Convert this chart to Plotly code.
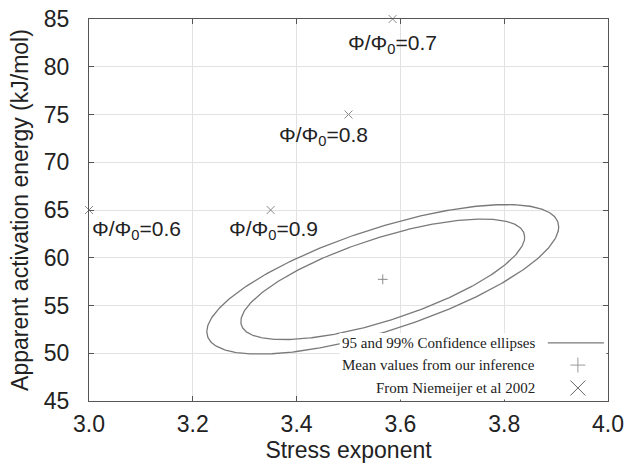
import numpy as np
import plotly.graph_objects as go

# ---- data ----
niemeijer_n = [3.0, 3.35, 3.5, 3.585]
niemeijer_E = [65, 65, 75, 85]
phi_ratio = ["0.6", "0.9", "0.8", "0.7"]
label_n = [3.002, 3.265, 3.362, 3.495]
label_E = [62.9, 62.9, 72.7, 82.4]

mean_n = [3.566]
mean_E = [57.74]

sigma_n = 0.1117
sigma_E = 2.58
rho = 0.70
conf_chi2 = [5.991, 9.210]  # 95% and 99%, 2 dof

x_ticks = [3.0, 3.2, 3.4, 3.6, 3.8, 4.0]
y_ticks = [45, 50, 55, 60, 65, 70, 75, 80, 85]

GRAY = "#7a7a7a"
FRAME = "#555555"
GRID = "#e2e2e2"
MARK = "#8a8a8a"

fig = go.Figure()

t = np.linspace(0, 2 * np.pi, 400)
for c in conf_chi2:
    s = np.sqrt(c)
    ex = mean_n[0] + s * sigma_n * np.cos(t)
    ey = mean_E[0] + s * sigma_E * (rho * np.cos(t) + np.sqrt(1 - rho ** 2) * np.sin(t))
    fig.add_trace(go.Scatter(x=ex, y=ey, mode="lines",
                             line=dict(color=GRAY, width=1.3), showlegend=False,
                             hoverinfo="skip"))

fig.add_trace(go.Scatter(x=mean_n, y=mean_E, mode="markers",
                         marker=dict(symbol="cross-thin-open", size=7, color=MARK,
                                     line=dict(color=MARK, width=1)),
                         showlegend=False))

fig.add_trace(go.Scatter(x=niemeijer_n, y=niemeijer_E, mode="markers",
                         marker=dict(symbol="x-thin-open", size=8, color=MARK,
                                     line=dict(color=MARK, width=1)),
                         cliponaxis=False, showlegend=False))

annotations = []
for xn, ye, r in zip(label_n, label_E, phi_ratio):
    annotations.append(dict(x=xn, y=ye, xref="x", yref="y",
                            text="Φ/Φ<sub>0</sub>=" + r, showarrow=False,
                            xanchor="left", yanchor="middle",
                            font=dict(family="Liberation Sans", size=21, color="#222")))

# custom legend (text right aligned, samples at right)
leg_text = ["95 and 99% Confidence ellipses",
            "Mean values from our inference",
            "From Niemeijer et al 2002"]
leg_y = [0.152, 0.094, 0.034]
for txt, yy in zip(leg_text, leg_y):
    annotations.append(dict(x=0.863, y=yy, xref="paper", yref="paper",
                            text=txt, showarrow=False, xanchor="right",
                            yanchor="middle",
                            font=dict(family="Liberation Serif", size=15, color="#222")))

shapes = [
    dict(type="rect", xref="paper", yref="paper", x0=0.483, x1=0.997,
         y0=0.004, y1=0.178, fillcolor="white", line=dict(width=0),
         layer="above"),
    dict(type="line", xref="paper", yref="paper", x0=0.884, x1=0.992,
         y0=leg_y[0], y1=leg_y[0], line=dict(color=GRAY, width=1.3),
         layer="above"),
    # plus
    dict(type="line", xref="paper", yref="paper", xsizemode="pixel",
         ysizemode="pixel", xanchor=0.942, yanchor=leg_y[1],
         x0=-7.5, x1=7.5, y0=0, y1=0, line=dict(color="#999", width=1),
         layer="above"),
    dict(type="line", xref="paper", yref="paper", xsizemode="pixel",
         ysizemode="pixel", xanchor=0.942, yanchor=leg_y[1],
         x0=0, x1=0, y0=-7.5, y1=7.5, line=dict(color="#999", width=1),
         layer="above"),
    # cross
    dict(type="line", xref="paper", yref="paper", xsizemode="pixel",
         ysizemode="pixel", xanchor=0.942, yanchor=leg_y[2],
         x0=-7.5, x1=7.5, y0=-7.5, y1=7.5, line=dict(color="#666", width=1),
         layer="above"),
    dict(type="line", xref="paper", yref="paper", xsizemode="pixel",
         ysizemode="pixel", xanchor=0.942, yanchor=leg_y[2],
         x0=-7.5, x1=7.5, y0=7.5, y1=-7.5, line=dict(color="#666", width=1),
         layer="above"),
]

axis_common = dict(showline=True, linecolor=FRAME, linewidth=1.3, mirror="allticks",
                   ticks="inside", ticklen=5, tickcolor=FRAME, tickwidth=1,
                   showgrid=True, gridcolor=GRID, gridwidth=1, zeroline=False,
                   automargin=False,
                   tickfont=dict(family="Liberation Sans", size=23, color="#222"))

fig.update_layout(
    width=630, height=466,
    margin=dict(l=89, r=22, t=19, b=65),
    paper_bgcolor="white", plot_bgcolor="white",
    showlegend=False,
    xaxis=dict(range=[3.0, 4.0], tickvals=x_ticks,
               ticktext=[f"{v:.1f}" for v in x_ticks],
               ticklabelstandoff=2,
               title=dict(text="Stress exponent", standoff=2,
                          font=dict(family="Liberation Sans", size=23, color="#222")),
               **axis_common),
    yaxis=dict(range=[45, 85], tickvals=y_ticks, ticklabelstandoff=14,
               title=dict(text="Apparent activation energy (kJ/mol)", standoff=8,
                          font=dict(family="Liberation Sans", size=23, color="#222")),
               **axis_common),
    annotations=annotations,
    shapes=shapes,
)

fig.write_html("out.html")
